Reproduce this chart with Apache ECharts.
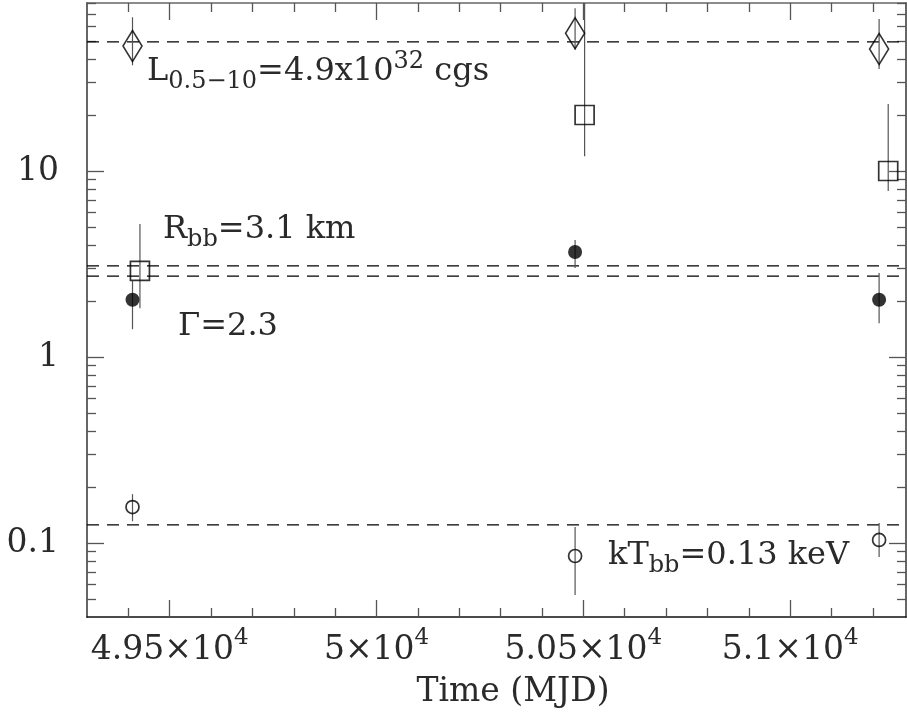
<!DOCTYPE html>
<html>
<head>
<meta charset="utf-8">
<script src="https://cdn.jsdelivr.net/npm/echarts@6/dist/echarts.min.js"></script>
<style>html,body{margin:0;padding:0;background:#fff;}#c{width:907px;height:717px;}</style>
</head>
<body>
<div id="c"></div>
<script>
// ---- data ----
const xMajorTicks = [49500, 50000, 50500, 51000];
const xMinorTicks = [49400, 49600, 49700, 49800, 49900, 50100, 50200, 50300, 50400, 50600, 50700, 50800, 50900, 51100, 51200];
const yMajorTicks = [0.1, 1, 10];
const yMinorTicks = [0.05, 0.06, 0.07, 0.08, 0.09, 0.2, 0.3, 0.4, 0.5, 0.6, 0.7, 0.8, 0.9, 2, 3, 4, 5, 6, 7, 8, 9, 20, 30, 40, 50, 60, 70, 80];

// luminosity (diamonds)
const lumX = [49410, 50480, 51215];
const lumY = [47, 55, 45.3];
const lumLo = [37, 45, 35.3];
const lumHi = [67, 75, 65.6];
// blackbody radius (squares)
const radX = [49428, 50503, 51237];
const radY = [2.9, 20.0, 10.0];
const radLo = [1.83, 12.0, 7.8];
const radHi = [5.19, 80, 22.9];
// photon index (filled circles)
const gamX = [49410, 50480, 51215];
const gamY = [2.03, 3.67, 2.03];
const gamLo = [1.41, 3.01, 1.52];
const gamHi = [2.56, 4.26, 2.83];
// blackbody temperature (open circles)
const ktX = [49410, 50480, 51215];
const ktY = [0.156, 0.0851, 0.1038];
const ktLo = [0.131, 0.0525, 0.084];
const ktHi = [0.183, 0.122, 0.128];
// mean reference levels (dashed lines)
const refLevels = [49.4, 3.09, 2.72, 0.125];

const X_MIN = 49300, X_MAX = 51280, Y_MIN = 0.04, Y_MAX = 80;
const FONT = 'DejaVu Serif';
const TXT = '#2a2a2a';

function pts(xs, ys) { return xs.map((x, i) => [x, ys[i]]); }
function bars(xs, lo, hi) { return xs.map((x, i) => [x, lo[i], hi[i]]); }

const chart = echarts.init(document.getElementById('c'), null, {renderer: 'canvas'});

function xAx(pos, ticks, len, withLabel, showLine) {
  return {
    type: 'value', position: pos, min: X_MIN, max: X_MAX, gridIndex: 0,
    splitLine: {show: false},
    axisLine: {show: showLine, lineStyle: {color: pos === 'bottom' ? '#111' : '#666', width: 1.5}},
    axisTick: {show: true, inside: true, length: len, customValues: ticks, lineStyle: {color: '#555', width: 1.3}},
    axisLabel: withLabel ? {
      show: true, customValues: ticks, margin: 10,
      formatter: v => '{b|' + (v / 1e4) + '×10}{s|4}',
      rich: {
        b: {fontFamily: FONT, fontSize: 33, color: TXT, lineHeight: 40, verticalAlign: 'bottom'},
        s: {fontFamily: FONT, fontSize: 23, color: TXT, lineHeight: 28, verticalAlign: 'top'}
      }
    } : {show: false}
  };
}
function yAx(pos, ticks, len, withLabel, showLine) {
  return {
    type: 'log', logBase: 10, position: pos, min: Y_MIN, max: Y_MAX, gridIndex: 0,
    splitLine: {show: false},
    axisLine: {show: showLine, lineStyle: {color: '#666', width: 2}},
    axisTick: {show: true, inside: true, length: len, customValues: ticks, lineStyle: {color: '#555', width: 1.3}},
    axisLabel: withLabel ? {
      show: true, customValues: ticks, margin: 28,
      fontFamily: FONT, fontSize: 33, color: TXT,
      formatter: v => String(v)
    } : {show: false}
  };
}

function errSeries(data) {
  return {
    type: 'custom', xAxisIndex: 0, yAxisIndex: 0, silent: true, z: 3,
    encode: {x: 0, y: [1, 2]},
    data: data,
    renderItem: (params, api) => {
      const a = api.coord([api.value(0), api.value(1)]);
      const b = api.coord([api.value(0), api.value(2)]);
      return {type: 'line', shape: {x1: a[0], y1: a[1], x2: b[0], y2: b[1]},
        style: {stroke: '#555', lineWidth: 1.2}};
    }
  };
}
function markSeries(data, symbol, size, filled) {
  return {
    type: 'scatter', xAxisIndex: 0, yAxisIndex: 0, silent: true, z: 4,
    symbol: symbol, symbolSize: size, data: data,
    itemStyle: {color: filled ? '#000' : 'rgba(0,0,0,0)', borderColor: '#000', borderWidth: filled ? 0 : 1.7}
  };
}
function refSeries(v) {
  return {
    type: 'line', xAxisIndex: 0, yAxisIndex: 0, silent: true, z: 2,
    symbol: 'none', data: [[X_MIN, v], [X_MAX, v]],
    lineStyle: {color: '#000', width: 1.3, type: [12, 8]}
  };
}

const ann = (left, top, text, rich) => ({
  type: 'text', left: left, top: top, silent: true,
  style: {text: text, rich: rich, fill: TXT}
});
const richMain = {
  a: {fontFamily: FONT, fontSize: 32, color: TXT, lineHeight: 44, verticalAlign: 'middle'},
  sub: {fontFamily: FONT, fontSize: 24, color: TXT, lineHeight: 8, verticalAlign: 'bottom'},
  sup: {fontFamily: FONT, fontSize: 24, color: TXT, lineHeight: 18, verticalAlign: 'top'}
};

chart.setOption({
  animation: false,
  backgroundColor: '#fff',
  grid: {left: 87, right: 1, top: 3, bottom: 100, containLabel: false},
  xAxis: [
    xAx('bottom', xMajorTicks, 17, true, true),
    xAx('bottom', xMinorTicks, 9, false, false),
    xAx('top', xMajorTicks, 17, false, true),
    xAx('top', xMinorTicks, 9, false, false)
  ],
  yAxis: [
    yAx('left', yMajorTicks, 17, true, true),
    yAx('left', yMinorTicks, 9, false, false),
    yAx('right', yMajorTicks, 17, false, true),
    yAx('right', yMinorTicks, 9, false, false)
  ],
  series: [
    ...refLevels.map(refSeries),
    errSeries(bars(lumX, lumLo, lumHi)),
    errSeries(bars(radX, radLo, radHi)),
    errSeries(bars(gamX, gamLo, gamHi)),
    errSeries(bars(ktX, ktLo, ktHi)),
    markSeries(pts(lumX, lumY), 'diamond', [19, 31], false),
    markSeries(pts(radX, radY), 'rect', [19, 19], false),
    markSeries(pts(gamX, gamY), 'circle', 14, true),
    markSeries(pts(ktX, ktY), 'circle', 13, false)
  ],
  graphic: [
    ann(147, 50, '{a|L}{sub|0.5−10}{a|=4.9x10}{sup|32}{a| cgs}', richMain),
    ann(163, 214, '{a|R}{sub|bb}{a|=3.1 km}', richMain),
    ann(178, 311, '{a|Γ=2.3}', richMain),
    ann(608, 540, '{a|kT}{sub|bb}{a|=0.13 keV}', richMain),
    {type: 'text', x: 513, y: 676, silent: true,
      style: {text: 'Time (MJD)', fontFamily: FONT, fontSize: 33, fill: TXT, textAlign: 'center'}}
  ]
});
</script>
</body>
</html>
